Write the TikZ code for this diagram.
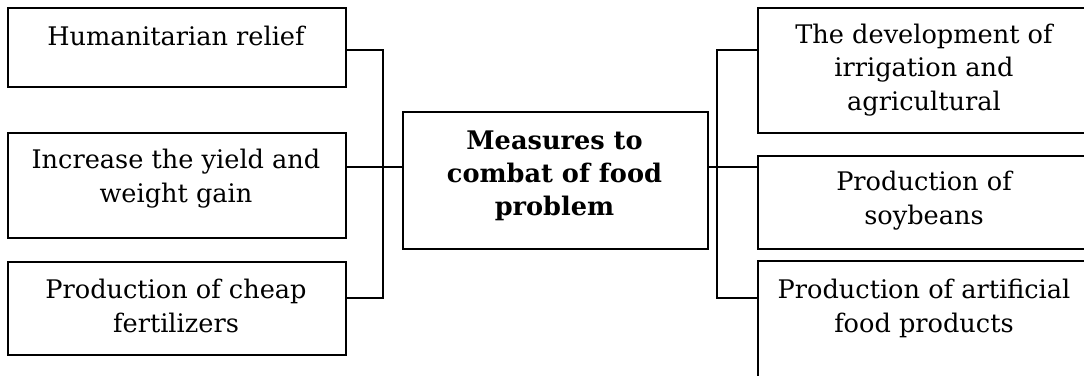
\documentclass[tikz,border=0pt]{standalone}
\usepackage{fontspec}
\setmainfont{DejaVu Serif}
\begin{document}
\begin{tikzpicture}[x=1bp,y=-1bp,
  box/.style={draw,line width=1.6bp,rectangle,inner sep=0pt,anchor=north west},
  txt/.style={anchor=base,align=center,inner sep=0pt,font=\fontsize{25.6bp}{33.5bp}\selectfont},
  btxt/.style={txt,font=\fontsize{25.6bp}{33bp}\selectfont\bfseries},
  conn/.style={line width=1.2bp}]
\clip (0,0) rectangle (1084,375);
% boxes
\node[box,minimum width=338bp,minimum height=79bp] (l1) at (7,7) {};
\node[box,minimum width=338bp,minimum height=105bp] (l2) at (7,132) {};
\node[box,minimum width=338bp,minimum height=93bp] (l3) at (7,261) {};
\node[box,minimum width=305bp,minimum height=137bp] (c) at (402,111) {};
\node[box,minimum width=334bp,minimum height=125bp] (r1) at (757,7) {};
\node[box,minimum width=334bp,minimum height=93bp] (r2) at (757,155) {};
\node[box,minimum width=334bp,minimum height=150bp] (r3) at (757,260) {};
% texts (anchored at the baseline of the last line)
\node[txt] (l1t) at (176,45) {Humanitarian relief};
\node[txt] (l2t) at (176,202) {Increase the yield and\\weight gain};
\node[txt] (l3t) at (176,332) {Production of cheap\\fertilizers};
\node[btxt] (ct) at (554.5,215) {Measures to\\combat of food\\problem};
\node[txt] (r1t) at (924,110) {The development of\\irrigation and\\agricultural};
\node[txt] (r2t) at (924,224) {Production of\\soybeans};
\node[txt] (r3t) at (924,332) {Production of artificial\\food products};
% connector levels
\coordinate (y1) at (0,50);
\coordinate (y2) at (0,167);
\coordinate (y3) at (0,298);
\coordinate (xl) at (383,0);
\coordinate (xr) at (717,0);
\draw[conn] (l1.east|-y1) -- (xl|-y1) -- (xl|-y3) -- (l3.east|-y3);
\draw[conn] (l2.east|-y2) -- (c.west|-y2);
\draw[conn] (c.east|-y2) -- (xr|-y2);
\draw[conn] (r1.west|-y1) -- (xr|-y1) -- (xr|-y3) -- (r3.west|-y3);
\draw[conn] (xr|-y2) -- (r2.west|-y2);
\end{tikzpicture}
\end{document}
